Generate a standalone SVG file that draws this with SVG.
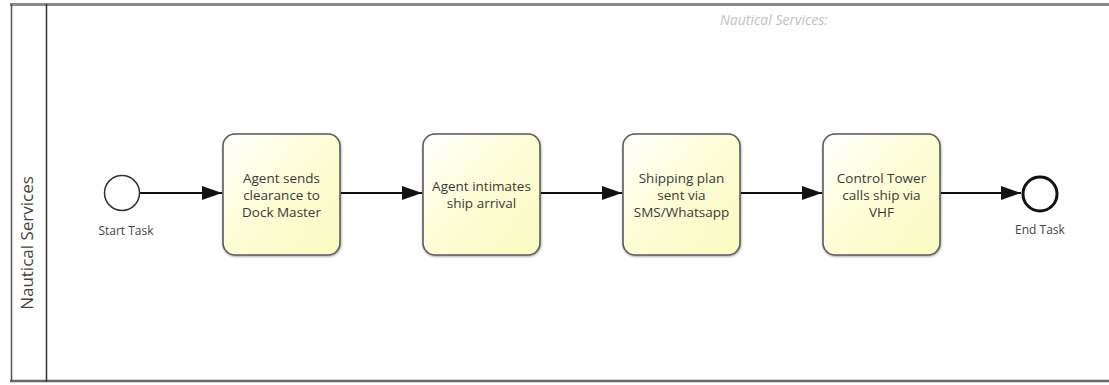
<svg xmlns="http://www.w3.org/2000/svg" width="1109" height="385" viewBox="0 0 1109 385">
  <style>
    .task rect { fill: url(#taskFill); stroke: #5a5a5a; stroke-width: 1.6; filter: url(#shadow); }
    .task text { font-family: "Open Sans", "Liberation Sans", sans-serif; font-size: 13.5px; fill: #3a3a3a; text-anchor: middle; }
    .label { font-family: "Open Sans", "Liberation Sans", sans-serif; font-size: 12px; fill: #444; text-anchor: middle; }
    .flow { stroke: #111; stroke-width: 2.2; fill: none; marker-end: url(#arrow); }
  </style>
  <defs>
    <linearGradient id="taskFill" x1="0" y1="0" x2="1" y2="1">
      <stop offset="0" stop-color="#ffffff"/>
      <stop offset="0.45" stop-color="#fdfdd8"/>
      <stop offset="1" stop-color="#fafac0"/>
    </linearGradient>
    <filter id="shadow" x="-10%" y="-10%" width="120%" height="120%">
      <feDropShadow dx="0.5" dy="1" stdDeviation="0.8" flood-color="#000" flood-opacity="0.35"/>
    </filter>
    <marker id="arrow" viewBox="0 0 20 14" refX="20" refY="7" markerWidth="20" markerHeight="14" markerUnits="userSpaceOnUse" orient="auto">
      <path d="M0,0 L20,7 L0,14 Z" fill="#111"/>
    </marker>
  </defs>

  <rect width="1109" height="385" fill="#fff"/>

  <!-- pool and lane frame -->
  <g id="pool">
    <line x1="10" y1="4.5" x2="1109" y2="4.5" stroke="#8a8a8a" stroke-width="3"/>
    <line x1="10" y1="381" x2="1109" y2="381" stroke="#6a6a6a" stroke-width="2.5"/>
    <line x1="11.5" y1="4" x2="11.5" y2="382" stroke="#555" stroke-width="1.5"/>
    <line x1="46.5" y1="4" x2="46.5" y2="382" stroke="#333" stroke-width="1.5"/>
    <text x="0" y="0" transform="translate(33,243) rotate(-90)" font-family="'Open Sans', 'Liberation Sans', sans-serif" font-size="17" fill="#444" text-anchor="middle">Nautical Services</text>
    <text x="720" y="25" font-family="'Open Sans', 'Liberation Sans', sans-serif" font-size="14" font-style="italic" fill="#c2c2c2">Nautical Services:</text>
  </g>

  <!-- sequence flows -->
  <g id="connectors">
    <line class="flow" x1="140" y1="193" x2="222" y2="193"/>
    <line class="flow" x1="341" y1="193" x2="422" y2="193"/>
    <line class="flow" x1="541" y1="193" x2="622" y2="193"/>
    <line class="flow" x1="741" y1="193" x2="822" y2="193"/>
    <line class="flow" x1="941" y1="193" x2="1021" y2="193"/>
  </g>

  <g id="start">
    <circle cx="122" cy="193" r="17.5" fill="#fff" stroke="#333" stroke-width="1.5"/>
    <text class="label" x="126" y="235">Start Task</text>
  </g>

  <g id="task1" class="task">
    <rect x="223" y="134" width="117" height="121" rx="12"/>
    <text x="281.5" y="183">Agent sends</text>
    <text x="281.5" y="200">clearance to</text>
    <text x="281.5" y="217">Dock Master</text>
  </g>

  <g id="task2" class="task">
    <rect x="423" y="134" width="117" height="121" rx="12"/>
    <text x="481.5" y="191">Agent intimates</text>
    <text x="481.5" y="208">ship arrival</text>
  </g>

  <g id="task3" class="task">
    <rect x="623" y="134" width="117" height="121" rx="12"/>
    <text x="681.5" y="183">Shipping plan</text>
    <text x="681.5" y="200">sent via</text>
    <text x="681.5" y="217">SMS/Whatsapp</text>
  </g>

  <g id="task4" class="task">
    <rect x="823" y="134" width="117" height="121" rx="12"/>
    <text x="881.5" y="183">Control Tower</text>
    <text x="881.5" y="200">calls ship via</text>
    <text x="881.5" y="217">VHF</text>
  </g>

  <g id="end">
    <circle cx="1040" cy="194" r="17" fill="#fff" stroke="#111" stroke-width="3"/>
    <text class="label" x="1040" y="234">End Task</text>
  </g>
</svg>
